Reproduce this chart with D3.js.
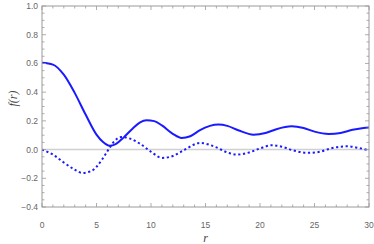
<!DOCTYPE html>
<html><head><meta charset="utf-8">
<script src="https://cdn.jsdelivr.net/npm/d3@7"></script>
<style>body{margin:0;background:#fff}svg{display:block}</style>
</head><body>
<script>
// solid curve samples (r, f)
const solidR = [0,1,2,3,4,5,5.6,6.2,6.8,7.5,8.3,9,9.6,10.3,11,12,12.8,13.6,14.5,15.4,16.2,17,18,19.4,20.5,21.5,22.9,24,25,26.3,27.4,28.5,29.5,30];
const solidF = [0.605,0.592,0.522,0.395,0.244,0.104,0.052,0.026,0.04,0.085,0.145,0.19,0.204,0.198,0.168,0.11,0.081,0.093,0.135,0.165,0.174,0.165,0.135,0.104,0.115,0.142,0.162,0.15,0.125,0.109,0.116,0.138,0.151,0.153];
// dotted curve samples
const dotR = [0,1,2,3,3.7,4.5,5,5.5,6.1,6.6,7.3,8,9,10,11,12,13,14.5,16,17,17.9,19,20,21.1,22,23,24.5,25.5,26.5,28,29,30];
const dotF = [0,-0.035,-0.09,-0.14,-0.163,-0.15,-0.12,-0.07,0,0.055,0.088,0.078,0.04,-0.015,-0.058,-0.045,-0.005,0.046,0.015,-0.02,-0.035,-0.02,0.008,0.03,0.02,-0.005,-0.023,-0.015,0.008,0.023,0.012,-0.005];
const xTicks = [0,5,10,15,20,25,30];
const yTicks = [-0.4,-0.2,0.0,0.2,0.4,0.6,0.8,1.0];

const W=374,H=244, L=42, R=369, T=6, B=207;
const svg=d3.select("body").append("svg").attr("width",W).attr("height",H);
const x=d3.scaleLinear().domain([0,30]).range([L,R]);
const y=d3.scaleLinear().domain([-0.4,1.0]).range([B,T]);
const gray="#999", txt="#666";

// zero line
svg.append("line").attr("x1",L).attr("x2",R).attr("y1",y(0)).attr("y2",y(0))
  .attr("stroke","#d0d0d0").attr("stroke-width",1.5);

// curves
const line=d3.line().x(d=>x(d[0])).y(d=>y(d[1])).curve(d3.curveMonotoneX);
svg.append("clipPath").attr("id","c").append("rect").attr("x",L).attr("y",T).attr("width",R-L).attr("height",B-T);
svg.append("path").datum(dotR.map((r,i)=>[r,dotF[i]])).attr("d",line)
  .attr("fill","none").attr("stroke","#1a1aff").attr("stroke-width",2)
  .attr("stroke-dasharray","2.2,2.6").attr("clip-path","url(#c)");
svg.append("path").datum(solidR.map((r,i)=>[r,solidF[i]])).attr("d",line)
  .attr("fill","none").attr("stroke","#1a1aff").attr("stroke-width",2).attr("clip-path","url(#c)");

// frame
svg.append("rect").attr("x",L).attr("y",T).attr("width",R-L).attr("height",B-T)
  .attr("fill","none").attr("stroke",gray).attr("stroke-width",1);

// ticks
const g=svg.append("g").attr("stroke",gray).attr("stroke-width",0.8);
d3.range(0,31,1).forEach(v=>{
  const major=v%5===0, len=major?4:2.5;
  g.append("line").attr("x1",x(v)).attr("x2",x(v)).attr("y1",B).attr("y2",B-len);
  g.append("line").attr("x1",x(v)).attr("x2",x(v)).attr("y1",T).attr("y2",T+len);
});
d3.range(-8,21,1).forEach(k=>{
  const v=k*0.05, major=k%4===0, len=major?4:2.5;
  g.append("line").attr("x1",L).attr("x2",L+len).attr("y1",y(v)).attr("y2",y(v));
  g.append("line").attr("x1",R).attr("x2",R-len).attr("y1",y(v)).attr("y2",y(v));
});

// tick labels
svg.append("g").selectAll("text").data(xTicks).join("text")
  .attr("x",d=>x(d)).attr("y",B+21).attr("text-anchor","middle")
  .attr("font-family","Liberation Sans, Arial, sans-serif").attr("font-size",8.5).attr("fill",txt)
  .text(d=>d);
svg.append("g").selectAll("text").data(yTicks).join("text")
  .attr("x",L-4).attr("y",d=>y(d)+3).attr("text-anchor","end")
  .attr("font-family","Liberation Sans, Arial, sans-serif").attr("font-size",8.5).attr("fill",txt)
  .text(d=>(d<0?"\u2212":"")+Math.abs(d).toFixed(1));

// axis labels
svg.append("text").attr("x",(L+R)/2).attr("y",242).attr("text-anchor","middle")
  .attr("font-family","Liberation Serif, serif").attr("font-style","italic").attr("font-size",12).attr("fill","#444")
  .text("r");
svg.append("text").attr("transform",`translate(17,${(T+B)/2-8}) rotate(-90)`).attr("text-anchor","middle")
  .attr("font-family","Liberation Serif, serif").attr("font-style","italic").attr("font-size",12).attr("fill","#444")
  .text("f(r)");
</script>
</body></html>
